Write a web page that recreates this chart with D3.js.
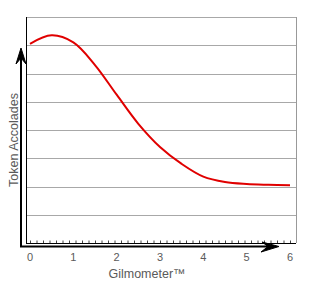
<!DOCTYPE html>
<html>
<head>
<meta charset="utf-8">
<script src="https://cdn.jsdelivr.net/npm/d3@7.9.0/dist/d3.min.js"></script>
<style>
  body { margin: 0; background: #fff; }
  text { font-family: "Liberation Sans", Arial, sans-serif; fill: #5a5a5a; }
</style>
</head>
<body>
<div id="chart"></div>
<script>
// Data
const gilmometer = [0, 0.5, 1, 1.5, 2, 2.5, 3, 3.5, 4, 4.5, 5, 5.5, 6];
const accolades = [7.05, 7.35, 7.1, 6.3, 5.25, 4.22, 3.4, 2.8, 2.35, 2.16, 2.09, 2.06, 2.04];
const xTicks = [0, 1, 2, 3, 4, 5, 6];
const gridLevels = [0, 1, 2, 3, 4, 5, 6, 7, 8];

const width = 320, height = 297;
const frame = { left: 26, right: 296, top: 17, bottom: 243 };

const svg = d3.select('#chart').append('svg')
    .attr('width', width)
    .attr('height', height);

const x = d3.scaleLinear().domain([0, 6]).range([30, 290]);
const y = d3.scaleLinear().domain([0, 8]).range([frame.bottom, frame.top]);

// horizontal grid lines
svg.append('g').selectAll('line')
    .data(gridLevels.slice(1))
    .enter().append('line')
    .attr('x1', frame.left)
    .attr('x2', frame.right)
    .attr('y1', d => Math.round(y(d)) + 0.5)
    .attr('y2', d => Math.round(y(d)) + 0.5)
    .attr('stroke', '#a8a8a8')
    .attr('stroke-width', 1);

// right border
svg.append('line')
    .attr('x1', frame.right + 0.5).attr('x2', frame.right + 0.5)
    .attr('y1', frame.top).attr('y2', frame.bottom)
    .attr('stroke', '#999');

// left frame line
svg.append('line')
    .attr('x1', frame.left + 0.5).attr('x2', frame.left + 0.5)
    .attr('y1', frame.top).attr('y2', frame.bottom)
    .attr('stroke', '#000');

// bottom axis with minor ticks
const minorTicks = d3.range(0, 6.01, 0.15);
const xAxis = d3.axisTop(x)
    .tickValues(minorTicks)
    .tickSize(3)
    .tickFormat('');
svg.append('g')
    .attr('transform', `translate(0,${frame.bottom + 0.5})`)
    .call(xAxis)
    .call(g => g.select('.domain').remove())
    .selectAll('line').attr('stroke', '#444');

svg.append('line')
    .attr('x1', frame.left).attr('x2', frame.right)
    .attr('y1', frame.bottom + 0.5).attr('y2', frame.bottom + 0.5)
    .attr('stroke', '#000');

// tick labels
svg.append('g').selectAll('text')
    .data(xTicks)
    .enter().append('text')
    .attr('x', d => x(d))
    .attr('y', 261)
    .attr('text-anchor', 'middle')
    .style('font-size', '11px')
    .text(d => d);

// hand drawn arrows
const arrows = svg.append('g').attr('stroke', '#000').attr('fill', '#000');
arrows.append('line')
    .attr('x1', 21).attr('x2', 21)
    .attr('y1', 247).attr('y2', 52)
    .attr('stroke-width', 2);
arrows.append('path')
    .attr('d', 'M21,48 L16,64 L21,58 L26,64 Z')
    .attr('stroke-width', 1);
arrows.append('line')
    .attr('x1', 20).attr('x2', 274)
    .attr('y1', 246.5).attr('y2', 246.5)
    .attr('stroke-width', 2);
arrows.append('path')
    .attr('d', 'M279,246.5 L262,242 L268,246.5 L261,252 Z')
    .attr('stroke-width', 1);

// curve
const line = d3.line()
    .x((d, i) => x(gilmometer[i]))
    .y(d => y(d))
    .curve(d3.curveCatmullRom);

svg.append('path')
    .datum(accolades)
    .attr('d', line)
    .attr('fill', 'none')
    .attr('stroke', '#e00000')
    .attr('stroke-width', 2);

// axis titles
svg.append('text')
    .attr('transform', 'translate(18,140) rotate(-90)')
    .attr('text-anchor', 'middle')
    .style('font-size', '12.5px')
    .text('Token Accolades');

svg.append('text')
    .attr('x', 147)
    .attr('y', 278)
    .attr('text-anchor', 'middle')
    .style('font-size', '12.5px')
    .text('Gilmometer™');
</script>
</body>
</html>
